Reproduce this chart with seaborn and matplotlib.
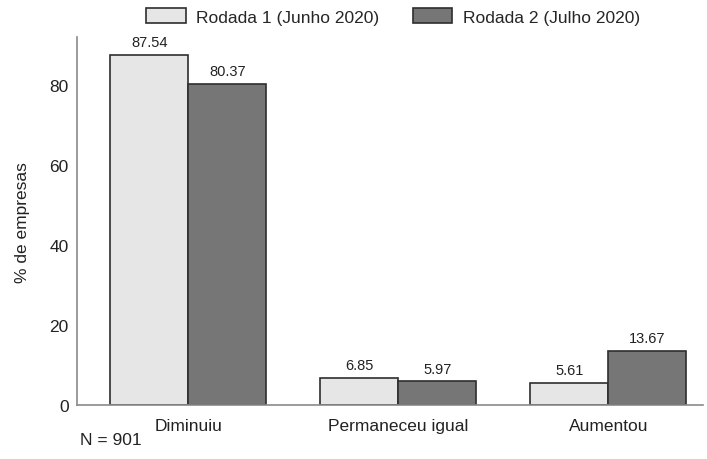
import matplotlib
matplotlib.use("Agg")
import matplotlib.pyplot as plt
import seaborn as sns
import pandas as pd

categories = ["Diminuiu", "Permaneceu igual", "Aumentou"]
series_names = ["Rodada 1 (Junho 2020)", "Rodada 2 (Julho 2020)"]
rodada1 = [87.54, 6.85, 5.61]
rodada2 = [80.37, 5.97, 13.67]
yticks = [0, 20, 40, 60, 80]

df = pd.DataFrame({
    "cat": categories * 2,
    "serie": [series_names[0]] * 3 + [series_names[1]] * 3,
    "val": rodada1 + rodada2,
})

sns.set_theme(style="white")
plt.rcParams["font.family"] = ["Liberation Sans", "DejaVu Sans"]

fig = plt.figure(figsize=(7.07, 4.60), dpi=100)
ax = fig.add_axes([0.109, 0.117, 0.885, 0.800])

colors = ["#e6e6e6", "#767676"]
sns.barplot(data=df, x="cat", y="val", hue="serie", order=categories,
            hue_order=series_names, palette=colors, width=0.743,
            edgecolor="#2e2e2e", linewidth=1.2, ax=ax, saturation=1)

for cont in ax.containers:
    ax.bar_label(cont, fmt="%.2f", padding=4, fontsize=10.5, color="#222222")

ax.set_ylim(0, 92)
ax.set_xlim(-0.53, 2.45)
ax.set_yticks(yticks)
ax.set_xlabel("")
ax.set_ylabel("% de empresas", fontsize=12.5, color="#222222", labelpad=14)
ax.tick_params(axis="x", labelsize=12.5, colors="#222222", length=0, pad=9)
ax.tick_params(axis="y", labelsize=12.5, colors="#222222", length=0, pad=6)
for s in ["top", "right"]:
    ax.spines[s].set_visible(False)
for s in ["left", "bottom"]:
    ax.spines[s].set_color("#8a8a8a")
    ax.spines[s].set_linewidth(1.2)

ax.legend(loc="center", bbox_to_anchor=(0.505, 1.057), ncol=2, frameon=False,
          fontsize=12.5, handlelength=2.3, handleheight=1.0, handletextpad=0.6,
          columnspacing=1.9, borderaxespad=0.0)

fig.text(0.113, 0.025, "N = 901", fontsize=12.5, color="#222222", ha="left", va="bottom")

fig.savefig("out.png", dpi=100)
